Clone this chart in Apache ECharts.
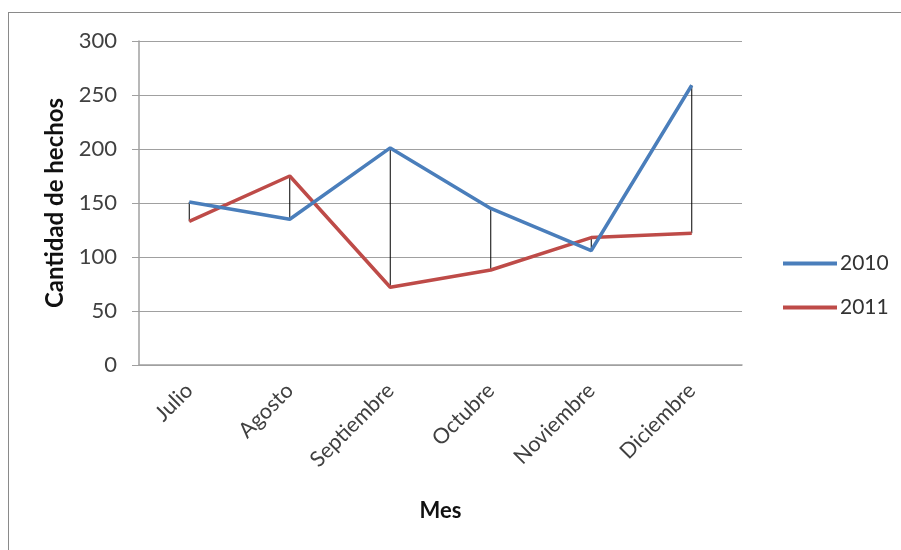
<!DOCTYPE html>
<html><head><meta charset="utf-8">
<script src="https://cdn.jsdelivr.net/npm/echarts@6/dist/echarts.min.js"></script>
<style>html,body{margin:0;padding:0;background:#fff}#frame{position:absolute;left:8px;top:12px;width:1000px;height:600px;border:1.5px solid #8a8a8a;box-sizing:border-box}#c{position:absolute;left:0;top:0;width:901px;height:550px}</style>
</head><body><div id="frame"></div><div id="c"></div>
<script>
const categories = ['Julio','Agosto','Septiembre','Octubre','Noviembre','Diciembre'];
const values2010 = [151, 135, 201, 145, 106, 259];
const values2011 = [133, 175, 72, 88, 118, 122];
const yTicks = [0, 50, 100, 150, 200, 250, 300];
const font = 'Lato, "Open Sans", sans-serif';
const chart = echarts.init(document.getElementById('c'));
chart.setOption({
  animation: false,
  grid: {left: 139, right: 159, top: 41, bottom: 185},
  legend: {
    orient: 'vertical', left: 778, top: 248, itemGap: 23,
    itemWidth: 54, itemHeight: 4, icon: 'rect',
    textStyle: {fontFamily: font, fontSize: 21, color: '#333', padding: [0, 0, 0, -2]},
    data: ['2010','2011']
  },
  xAxis: {
    type: 'category', data: categories, boundaryGap: true,
    name: 'Mes', nameLocation: 'middle', nameGap: 135,
    nameTextStyle: {fontFamily: font, fontSize: 22, fontWeight: 'bold', color: '#111'},
    axisLine: {lineStyle: {color: '#a0a0a0', width: 1.5}},
    axisTick: {show: false},
    axisLabel: {rotate: 45, margin: 22, fontFamily: font, fontSize: 21.5, color: '#404040'}
  },
  yAxis: {
    type: 'value', min: yTicks[0], max: yTicks[yTicks.length-1], interval: 50,
    name: 'Cantidad de hechos', nameLocation: 'middle', nameGap: 72,
    nameTextStyle: {fontFamily: font, fontSize: 24, fontWeight: 'bold', color: '#111'},
    axisLine: {show: true, lineStyle: {color: '#a0a0a0', width: 1.5}},
    axisTick: {show: true, length: 7, lineStyle: {color: '#a0a0a0'}},
    axisLabel: {margin: 22, fontFamily: font, fontSize: 22, color: '#404040'},
    splitLine: {lineStyle: {color: '#a0a0a0', width: 1.2}}
  },
  series: [
    {
      name: 'drop', type: 'custom', silent: true, z: 1,
      data: categories.map((c, i) => [i, values2010[i], values2011[i]]),
      renderItem: function (params, api) {
        const p1 = api.coord([api.value(0), api.value(1)]);
        const p2 = api.coord([api.value(0), api.value(2)]);
        return {type: 'line', shape: {x1: p1[0], y1: p1[1], x2: p2[0], y2: p2[1]},
          style: {stroke: '#000', lineWidth: 1}};
      }
    },
    {name: '2010', type: 'line', data: values2010, symbol: 'none', z: 3,
      lineStyle: {color: '#4a7ebb', width: 3.5}, itemStyle: {color: '#4a7ebb'}},
    {name: '2011', type: 'line', data: values2011, symbol: 'none', z: 2,
      lineStyle: {color: '#be4b48', width: 3.5}, itemStyle: {color: '#be4b48'}}
  ]
});
</script></body></html>
